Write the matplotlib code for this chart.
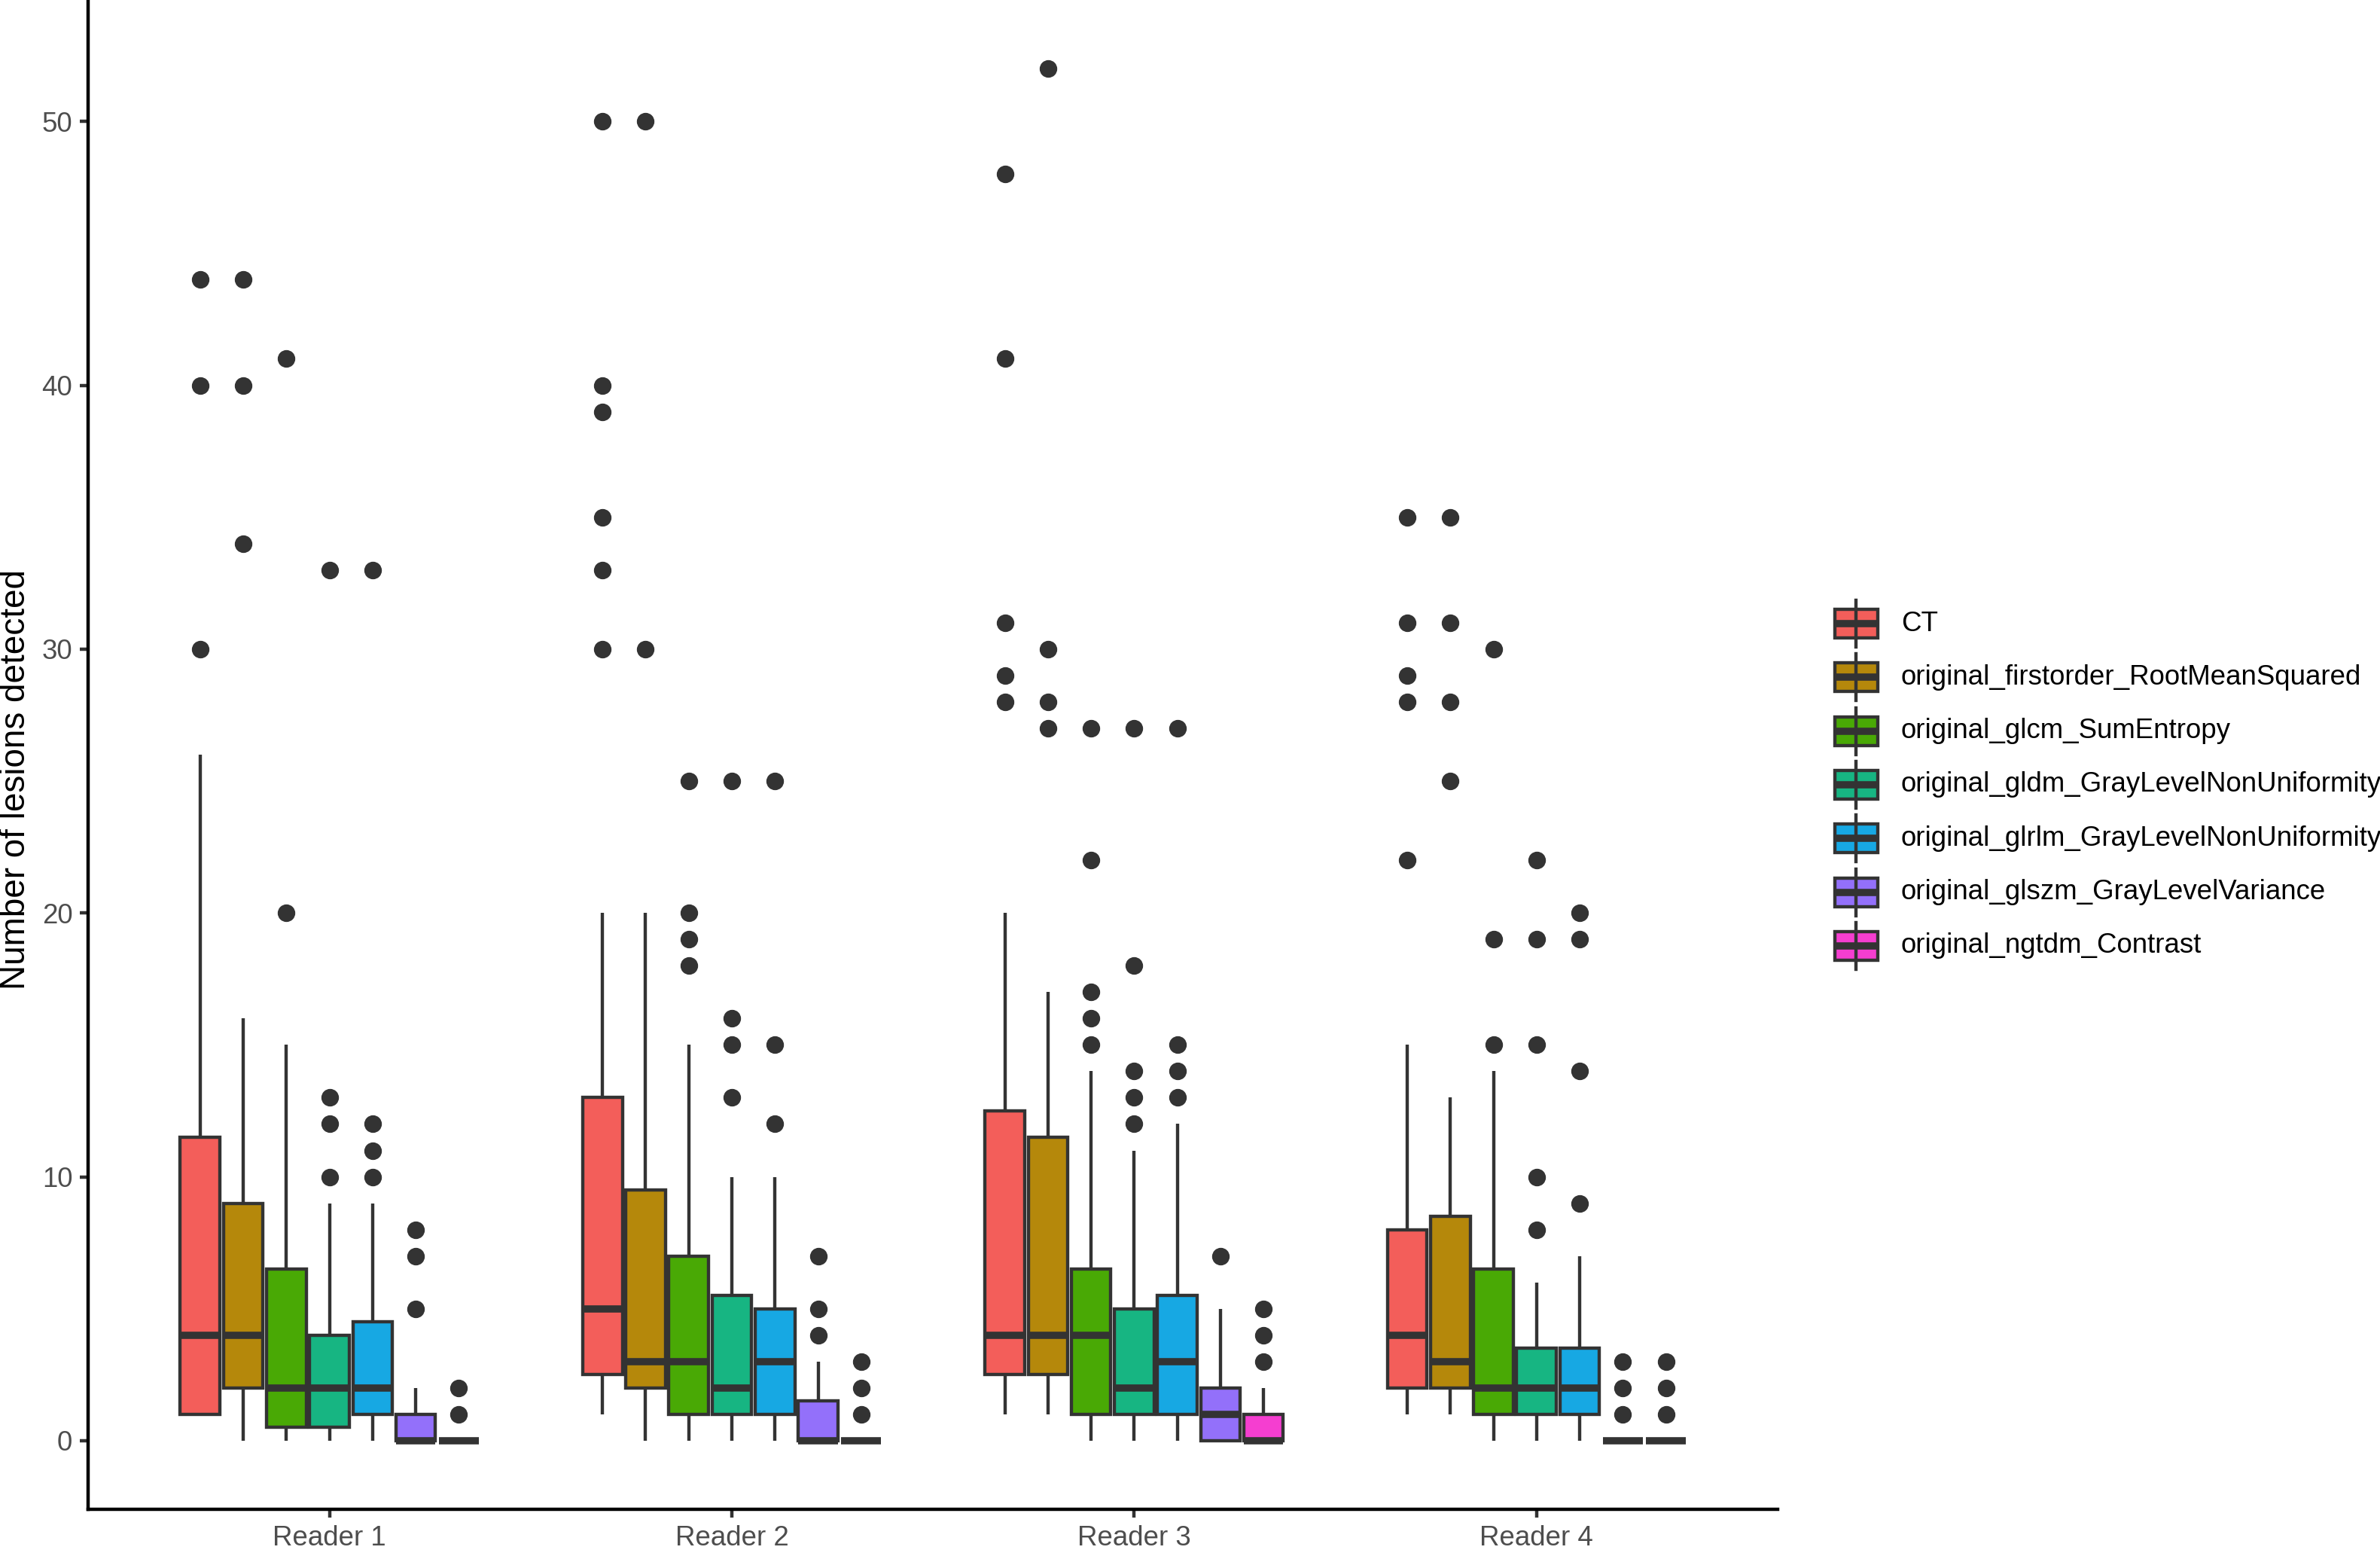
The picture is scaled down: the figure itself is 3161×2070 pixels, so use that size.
import matplotlib
matplotlib.use("Agg")
import matplotlib.pyplot as plt
from matplotlib.patches import Rectangle
from matplotlib.lines import Line2D

plt.rcParams['font.family'] = ['Liberation Sans', 'DejaVu Sans']

readers = ["Reader 1", "Reader 2", "Reader 3", "Reader 4"]
features = ["CT",
            "original_firstorder_RootMeanSquared",
            "original_glcm_SumEntropy",
            "original_gldm_GrayLevelNonUniformity",
            "original_glrlm_GrayLevelNonUniformity",
            "original_glszm_GrayLevelVariance",
            "original_ngtdm_Contrast"]
colors = ["#F35E5A", "#B5880B", "#49A905", "#17B582", "#17A8E3", "#9370FA", "#F53ED0"]

# per reader, per feature (order as in features)
q1 = [[1, 2, 0.5, 0.5, 1, 0, 0],
      [2.5, 2, 1, 1, 1, 0, 0],
      [2.5, 2.5, 1, 1, 1, 0, 0],
      [2, 2, 1, 1, 1, 0, 0]]
med = [[4, 4, 2, 2, 2, 0, 0],
       [5, 3, 3, 2, 3, 0, 0],
       [4, 4, 4, 2, 3, 1, 0],
       [4, 3, 2, 2, 2, 0, 0]]
q3 = [[11.5, 9, 6.5, 4, 4.5, 1, 0],
      [13, 9.5, 7, 5.5, 5, 1.5, 0],
      [12.5, 11.5, 6.5, 5, 5.5, 2, 1],
      [8, 8.5, 6.5, 3.5, 3.5, 0, 0]]
whislo = [[1, 0, 0, 0, 0, 0, 0],
          [1, 0, 0, 0, 0, 0, 0],
          [1, 1, 0, 0, 0, 0, 0],
          [1, 1, 0, 0, 0, 0, 0]]
whishi = [[26, 16, 15, 9, 9, 2, 0],
          [20, 20, 15, 10, 10, 3, 0],
          [20, 17, 14, 11, 12, 5, 2],
          [15, 13, 14, 6, 7, 0, 0]]
fliers = [[[30, 40, 44], [34, 40, 44], [20, 41], [10, 12, 13, 33], [10, 11, 12, 33], [5, 7, 8], [1, 2]],
          [[30, 33, 35, 39, 40, 50], [30, 50], [18, 19, 20, 25], [13, 15, 16, 25], [12, 15, 25], [4, 5, 7], [1, 2, 3]],
          [[28, 29, 31, 41, 48], [27, 28, 30, 52], [15, 16, 17, 22, 27], [12, 13, 14, 18, 27], [13, 14, 15, 27], [7], [3, 4, 5]],
          [[22, 28, 29, 31, 35], [25, 28, 31, 35], [15, 19, 30], [8, 10, 15, 19, 22], [9, 14, 19, 20], [1, 2, 3], [1, 2, 3]]]

W, H = 3162, 2070
DPI = 300
fig = plt.figure(figsize=(W / DPI, H / DPI), dpi=DPI)
ax = fig.add_axes([58 / 1568, 33 / 1035, (1171 - 58) / 1568, 1 - 33 / 1035])

edge = "#333333"
lw = 1.05
nf = len(features)
slot = 0.75 / nf
bw = slot * 0.92

for r in range(len(readers)):
    for f in range(nf):
        pos = (r + 1) + (f - (nf - 1) / 2) * slot
        st = dict(q1=q1[r][f], med=med[r][f], q3=q3[r][f],
                  whislo=whislo[r][f], whishi=whishi[r][f],
                  fliers=fliers[r][f], label=features[f])
        ax.bxp([st], positions=[pos], widths=bw, patch_artist=True,
               showcaps=False, manage_ticks=False,
               boxprops=dict(facecolor=colors[f], edgecolor=edge, linewidth=lw),
               whiskerprops=dict(color=edge, linewidth=lw, solid_capstyle='butt'),
               medianprops=dict(color=edge, linewidth=lw * 2.2, solid_capstyle='butt'),
               flierprops=dict(marker='o', markerfacecolor=edge, markeredgecolor=edge,
                               markersize=4.6, linestyle='none'))

ax.set_xlim(0.4, 4.6)
ax.set_ylim(-2.6, 54.6)
ax.set_xticks(range(1, len(readers) + 1))
ax.set_xticklabels(readers)
ax.set_yticks([0, 10, 20, 30, 40, 50])
for s in ["top", "right"]:
    ax.spines[s].set_visible(False)
for s in ["left", "bottom"]:
    ax.spines[s].set_color("black")
    ax.spines[s].set_linewidth(1.07)
ax.tick_params(axis='both', colors=edge, width=1.07, length=2.75,
               labelsize=8.8, labelcolor="#4D4D4D", pad=2.2)
ax.set_facecolor("white")

fig.text(10.5 / 1568, 0.5, "Number of lesions detected", fontsize=11, color="black",
         rotation=90, ha="center", va="center")

# legend drawn in pixel coordinates
lg = fig.add_axes([0, 0, 1, 1], facecolor="none")
lg.set_xlim(0, W)
lg.set_ylim(H, 0)
lg.axis("off")
kx0, kx1 = 2437, 2494
kxc = (kx0 + kx1) / 2
for k, (name, c) in enumerate(zip(features, colors)):
    yc = 828 + 71.3 * k
    lg.add_line(Line2D([kxc, kxc], [yc - 31, yc + 31], color=edge, linewidth=lw))
    lg.add_patch(Rectangle((kx0, yc - 19), kx1 - kx0, 38, facecolor=c, edgecolor=edge, linewidth=lw))
    lg.add_line(Line2D([kx0, kx1], [yc, yc], color=edge, linewidth=lw * 2.2, solid_capstyle='butt'))
    lg.text(2525, yc, name, fontsize=8.8, va="center", ha="left", color="black")

fig.savefig("out.png", dpi=DPI, facecolor="white")
